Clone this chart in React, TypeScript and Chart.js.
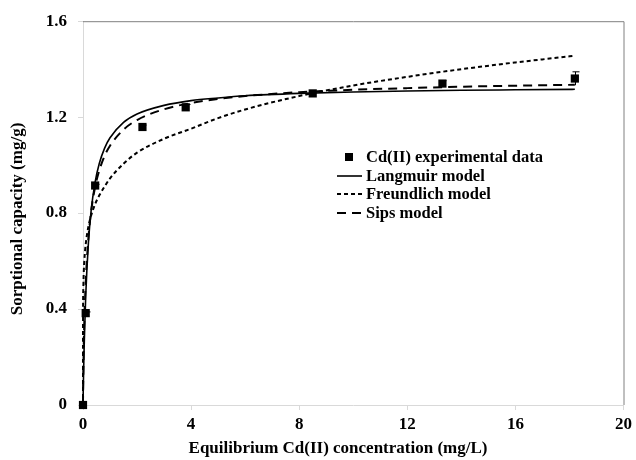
import React, { useEffect, useRef } from "react";
import { Chart, registerables } from "chart.js";

Chart.register(...registerables);

// Experimental data
const expC = [0, 0.1, 0.45, 2.2, 3.8, 8.5, 13.3, 18.2];
const expQ = [0, 0.383, 0.915, 1.159, 1.241, 1.299, 1.34, 1.361];
const expErr = [0, 0.005, 0.005, 0.008, 0.012, 0.008, 0.012, 0.028];

// Model curves
const curveC = [0, 0.001, 0.01, 0.02, 0.03, 0.05, 0.1, 0.2, 0.3, 0.45, 0.6, 0.8, 1, 1.5, 2, 3, 4, 5, 6, 8, 10, 12, 14, 16, 18.2];
const langmuirQ = [0, 0.007, 0.064, 0.125, 0.179, 0.273, 0.453, 0.676, 0.809, 0.93, 1.006, 1.071, 1.114, 1.178, 1.213, 1.249, 1.269, 1.28, 1.289, 1.299, 1.305, 1.309, 1.312, 1.314, 1.316];
const freundlichQ = [0, 0.338, 0.476, 0.525, 0.56, 0.605, 0.67, 0.744, 0.79, 0.838, 0.873, 0.911, 0.945, 1.006, 1.052, 1.11, 1.152, 1.196, 1.232, 1.288, 1.332, 1.368, 1.4, 1.428, 1.456];
const sipsQ = [0, 0.02, 0.118, 0.193, 0.26, 0.348, 0.51, 0.696, 0.806, 0.91, 0.977, 1.039, 1.081, 1.148, 1.188, 1.233, 1.259, 1.276, 1.288, 1.304, 1.314, 1.321, 1.327, 1.331, 1.335];

const xTicks = [0, 4, 8, 12, 16, 20];
const yTicks = [0, 0.4, 0.8, 1.2, 1.6];

const seriesLabels = [
  "Cd(II) experimental data",
  "Langmuir model",
  "Freundlich model",
  "Sips model",
];
const xTitle = "Equilibrium Cd(II) concentration (mg/L)";
const yTitle = "Sorptional capacity (mg/g)";

const FONT = "'Liberation Serif', 'Times New Roman', serif";

const toPts = (xs: number[], ys: number[]) => xs.map((x, i) => ({ x, y: ys[i] }));

const decorPlugin = {
  id: "decor",
  afterDatasetsDraw(chart: any) {
    const { ctx, chartArea, scales } = chart;
    const xs = scales.x;
    const ys = scales.y;
    ctx.save();
    // error bars
    ctx.strokeStyle = "#000";
    ctx.lineWidth = 1;
    expC.forEach((c, i) => {
      const e = expErr[i];
      if (!e) return;
      const px = Math.round(xs.getPixelForValue(c)) + 0.5;
      const top = ys.getPixelForValue(expQ[i] + e);
      const bot = ys.getPixelForValue(expQ[i] - e);
      ctx.beginPath();
      ctx.moveTo(px, top);
      ctx.lineTo(px, bot);
      ctx.moveTo(px - 3, top);
      ctx.lineTo(px + 4, top);
      ctx.stroke();
    });
    // frame top and right
    ctx.strokeStyle = "#808080";
    ctx.lineWidth = 1;
    ctx.beginPath();
    ctx.moveTo(chartArea.left, chartArea.top + 0.5);
    ctx.lineTo(chartArea.right + 0.5, chartArea.top + 0.5);
    ctx.lineTo(chartArea.right + 0.5, chartArea.bottom);
    ctx.stroke();
    ctx.restore();
  },
  afterDraw(chart: any) {
    const { ctx } = chart;
    ctx.save();
    // axis titles
    ctx.fillStyle = "#000";
    ctx.font = `bold 17px ${FONT}`;
    ctx.textAlign = "center";
    ctx.textBaseline = "middle";
    ctx.fillText(xTitle, 338, 449);
    ctx.save();
    ctx.translate(18, 219);
    ctx.rotate(-Math.PI / 2);
    ctx.fillText(yTitle, 0, 0);
    ctx.restore();

    // legend
    const lx0 = 337;
    const lx1 = 362;
    const tx = 366;
    const rows = [157, 176, 194, 213];
    ctx.font = `bold 16.5px ${FONT}`;
    ctx.textAlign = "left";
    chart.data.datasets.forEach((ds: any, i: number) => {
      const y = rows[i];
      if (i === 0) {
        ctx.fillStyle = "#000";
        ctx.fillRect(345, y - 4, 8, 8);
      } else {
        ctx.strokeStyle = "#000";
        ctx.lineWidth = ds.borderWidth;
        ctx.setLineDash(ds.borderDash || []);
        ctx.beginPath();
        ctx.moveTo(lx0, y);
        ctx.lineTo(lx1, y);
        ctx.stroke();
        ctx.setLineDash([]);
      }
      ctx.fillStyle = "#000";
      ctx.fillText(ds.label, tx, y + 1);
    });
    ctx.restore();
  },
};

export default function App() {
  const ref = useRef<HTMLCanvasElement | null>(null);
  useEffect(() => {
    if (!ref.current) return;
    const chart = new Chart(ref.current, {
      type: "scatter",
      data: {
        datasets: [
          {
            label: seriesLabels[0],
            data: toPts(expC, expQ),
            pointStyle: "rect",
            pointRadius: 5.8,
            pointBackgroundColor: "#000",
            pointBorderColor: "#000",
            pointBorderWidth: 0,
            showLine: false,
            clip: false,
          },
          {
            label: seriesLabels[1],
            data: toPts(curveC, langmuirQ),
            showLine: true,
            borderColor: "#000",
            borderWidth: 1.6,
            pointRadius: 0,
            cubicInterpolationMode: "monotone",
            clip: 4,
          },
          {
            label: seriesLabels[2],
            data: toPts(curveC, freundlichQ),
            showLine: true,
            borderColor: "#000",
            borderWidth: 2,
            borderDash: [4, 3],
            pointRadius: 0,
            cubicInterpolationMode: "monotone",
            clip: 4,
          },
          {
            label: seriesLabels[3],
            data: toPts(curveC, sipsQ),
            showLine: true,
            borderColor: "#000",
            borderWidth: 2,
            borderDash: [9, 6],
            pointRadius: 0,
            cubicInterpolationMode: "monotone",
            clip: 4,
          },
        ],
      } as any,
      options: {
        responsive: false,
        animation: false,
        layout: { padding: { left: 0, top: 17, right: 10, bottom: 0 } },
        plugins: {
          legend: { display: false },
          tooltip: { enabled: false },
        },
        scales: {
          x: {
            type: "linear",
            min: 0,
            max: 20,
            afterFit: (s: any) => {
              s.height = 55;
            },
            afterBuildTicks: (s: any) => {
              s.ticks = xTicks.map((v) => ({ value: v }));
            },
            ticks: {
              color: "#000",
              font: { family: FONT, size: 17, weight: "bold" },
              padding: 4,
              maxRotation: 0,
            },
            grid: {
              drawOnChartArea: false,
              drawTicks: true,
              tickLength: 5,
              color: "#d9d9d9",
            },
            border: { display: true, color: "#d9d9d9", width: 1 },
          },
          y: {
            type: "linear",
            min: 0,
            max: 1.6,
            afterFit: (s: any) => {
              s.width = 83;
            },
            afterBuildTicks: (s: any) => {
              s.ticks = yTicks.map((v) => ({ value: v }));
            },
            ticks: {
              color: "#000",
              font: { family: FONT, size: 17, weight: "bold" },
              padding: 11,
              callback: (v: any) => String(Number(v)),
            },
            grid: {
              drawOnChartArea: false,
              drawTicks: true,
              tickLength: 5,
              color: "#d9d9d9",
            },
            border: { display: true, color: "#d9d9d9", width: 1 },
          },
        },
      } as any,
      plugins: [decorPlugin],
    });
    return () => chart.destroy();
  }, []);
  return (
    <div style={{ position: "fixed", left: 0, top: 0, width: 636, height: 460, background: "#fff" }}>
      <canvas ref={ref} width={636} height={460} style={{ display: "block" }} />
    </div>
  );
}
